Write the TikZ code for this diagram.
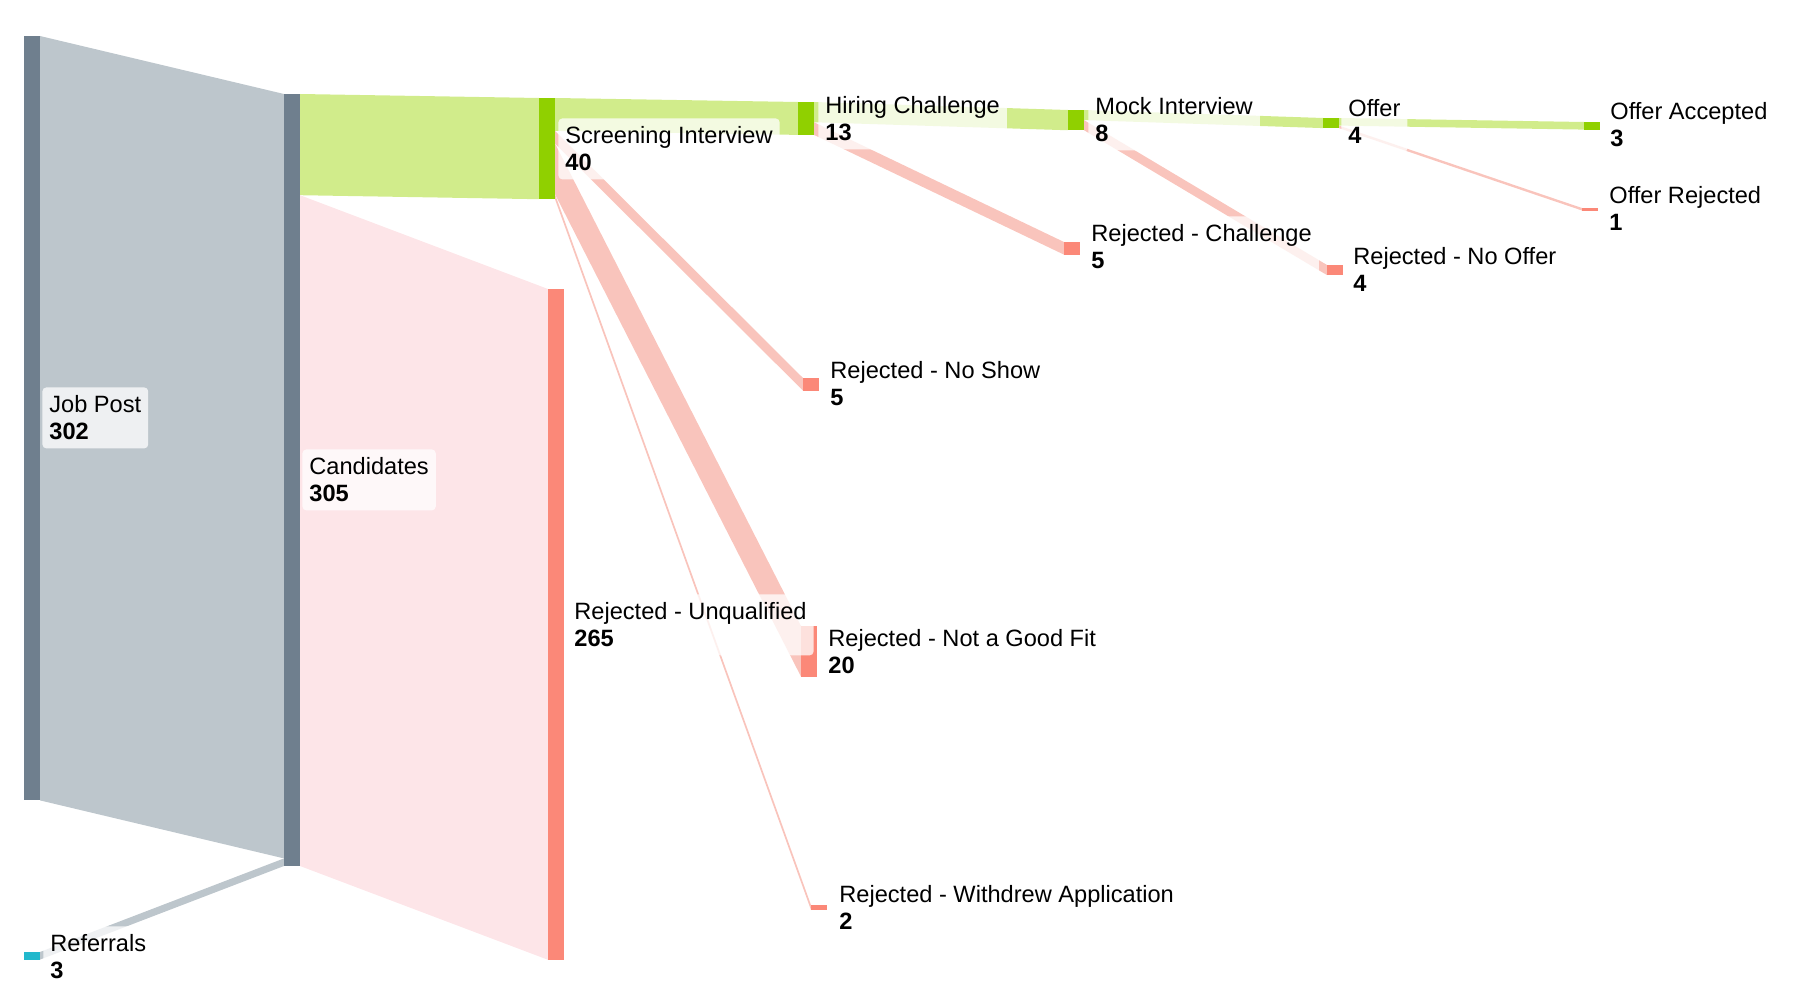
\documentclass[tikz,border=0pt]{standalone}
\usepackage{fontspec}
\setmainfont{Liberation Sans}
\usetikzlibrary{calc}
\definecolor{slate}{HTML}{6F7F8E}
\definecolor{grayflow}{HTML}{BDC6CC}
\definecolor{gbar}{HTML}{90D000}
\definecolor{gflow}{HTML}{D1EC8B}
\definecolor{rbar}{HTML}{FB8878}
\definecolor{rflow}{HTML}{F9C4BC}
\definecolor{uflow}{HTML}{FDE5E8}
\definecolor{cyanbar}{HTML}{22B8CC}
\tikzset{
  bar/.style n args={3}{anchor=north west, inner sep=0pt, outer sep=0pt,
    minimum width=#1*0.5pt, minimum height=#2*0.5pt, fill=#3, draw=none},
  lbl/.style={anchor=north west, align=left, fill=white, fill opacity=0.75,
    text opacity=1, rounded corners=2pt, inner xsep=3.5pt, inner ysep=2.5pt,
    font=\fontsize{11.8}{13.5}\selectfont}
}
\newcommand\sflow[6]{%
  \fill[#6] ($(#1.north east)+(0,#2)$) -- ($(#3.north west)+(0,#4)$)
    -- ($(#3.north west)+(0,{#4+#5})$) -- ($(#1.north east)+(0,{#2+#5})$) -- cycle;}
\newcommand\lbl[5]{%
  \node[lbl] (#1) at ({#2-7},{#3-25}) {\rule{0pt}{10pt}#4\\\textbf{#5}\rule[-2pt]{0pt}{2pt}};}
\begin{document}
\begin{tikzpicture}[x=0.5pt,y=-0.5pt]
\useasboundingbox (0,0) rectangle (1800,1000);
% bars (nodes)
\node[bar={16}{764.4}{slate}] (job) at (24,36) {};
\node[bar={16}{7.6}{cyanbar}] (ref) at (24,952) {};
\node[bar={16}{772}{slate}] (cand) at (284,94) {};
\node[bar={16}{101.2}{gbar}] (scr) at (539,98) {};
\node[bar={16}{670.8}{rbar}] (unq) at (548,289) {};
\node[bar={16}{32.9}{gbar}] (hc) at (798,102) {};
\node[bar={16}{12.66}{rbar}] (ns) at (803,378) {};
\node[bar={16}{50.6}{rbar}] (fit) at (801,626) {};
\node[bar={16}{5.06}{rbar}] (wd) at (811,905) {};
\node[bar={16}{20.25}{gbar}] (mock) at (1068,110) {};
\node[bar={16}{12.66}{rbar}] (rc) at (1064,242) {};
\node[bar={16}{10.1}{gbar}] (offer) at (1323,118) {};
\node[bar={16}{10.1}{rbar}] (noff) at (1327,265) {};
\node[bar={16}{7.6}{gbar}] (acc) at (1584,122) {};
\node[bar={16}{2.53}{rbar}] (orej) at (1582,208) {};
% flows
\begin{scope}[on background layer/.try]
\sflow{job}{0}{cand}{0}{764.4}{grayflow}
\sflow{ref}{0}{cand}{764.4}{7.6}{grayflow}
\sflow{cand}{0}{scr}{0}{101.2}{gflow}
\sflow{cand}{101.2}{unq}{0}{670.8}{uflow}
\sflow{scr}{0}{hc}{0}{32.9}{gflow}
\sflow{scr}{32.9}{ns}{0}{12.66}{rflow}
\sflow{scr}{45.56}{fit}{0}{50.6}{rflow}
\sflow{scr}{96.16}{wd}{0}{5.06}{rflow}
\sflow{hc}{0}{mock}{0}{20.25}{gflow}
\sflow{hc}{20.25}{rc}{0}{12.66}{rflow}
\sflow{mock}{0}{offer}{0}{10.1}{gflow}
\sflow{mock}{10.1}{noff}{0}{10.1}{rflow}
\sflow{offer}{0}{acc}{0}{7.6}{gflow}
\sflow{offer}{7.6}{orej}{0}{2.53}{rflow}
\end{scope}
% redraw bars on top of flows
\foreach \n/\c in {job/slate,ref/cyanbar,cand/slate,scr/gbar,unq/rbar,hc/gbar,ns/rbar,fit/rbar,wd/rbar,mock/gbar,rc/rbar,offer/gbar,noff/rbar,acc/gbar,orej/rbar}
  \fill[\c] (\n.north west) rectangle (\n.south east);
% labels
\lbl{ljob}{49}{412}{Job Post}{302}
\lbl{lref}{50}{951}{Referrals}{3}
\lbl{lcand}{309}{474}{Candidates}{305}
\lbl{lscr}{565}{143}{Screening Interview}{40}
\lbl{lunq}{574}{619}{Rejected - Unqualified}{265}
\lbl{lhc}{825}{113}{Hiring Challenge}{13}
\lbl{lns}{830}{378}{Rejected - No Show}{5}
\lbl{lfit}{828}{646}{Rejected - Not a Good Fit}{20}
\lbl{lwd}{839}{902}{Rejected - Withdrew Application}{2}
\lbl{lmock}{1095}{114}{Mock Interview}{8}
\lbl{lrc}{1091}{241}{Rejected - Challenge}{5}
\lbl{loffer}{1348}{116}{Offer}{4}
\lbl{lno}{1353}{264}{Rejected - No Offer}{4}
\lbl{lacc}{1610}{119}{Offer Accepted}{3}
\lbl{lorej}{1609}{203}{Offer Rejected}{1}
\end{tikzpicture}
\end{document}
